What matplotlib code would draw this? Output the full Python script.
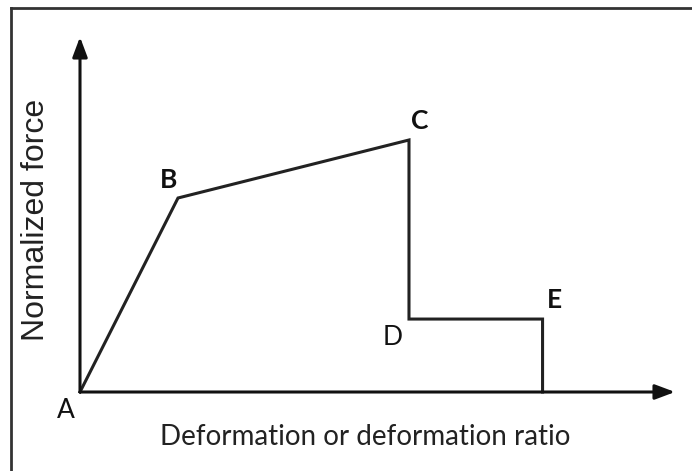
import matplotlib
matplotlib.use('Agg')
import matplotlib.pyplot as plt
from matplotlib.lines import Line2D

plt.rcParams['font.family'] = ['Lato', 'DejaVu Sans']

# curve A-B-C-D-E-end (arbitrary normalized units)
deformation = [0.0, 1.0, 3.357, 3.357, 4.72, 4.72]
force = [0.0, 1.0, 1.299, 0.376, 0.376, 0.0]
point_names = ['A', 'B', 'C', 'D', 'E']
bold_names = {'B', 'C', 'E'}
# label offsets in points relative to each vertex
label_offsets = [(-10, -13.5), (-6.5, 13), (8, 13.5), (-12, -13), (8.5, 13.5)]

W, H = 692, 471
fig = plt.figure(figsize=(W / 100, H / 100), dpi=100)

# plot area: origin at pixel (80, 392), axis arrows reach x=675 and y=37
x0, y0, x1, y1 = 80, 392, 675, 37
ax = fig.add_axes([x0 / W, (H - y0) / H, (x1 - x0) / W, (y0 - y1) / H])
xmax = (x1 - x0) / 98.0
ymax = (y0 - y1) / 194.0
ax.set_xlim(0, xmax)
ax.set_ylim(0, ymax)
ax.axis('off')

ax.plot(deformation, force, color='#222222', lw=2.2, solid_joinstyle='miter', clip_on=False, zorder=3)

arrow = dict(arrowstyle='-|>,head_length=1.2,head_width=0.45', color='#111111', lw=2.2,
             shrinkA=0, shrinkB=0)
ax.annotate('', xy=(xmax, 0), xytext=(0, 0), arrowprops=arrow, annotation_clip=False)
ax.annotate('', xy=(0, ymax), xytext=(0, 0), arrowprops=arrow, annotation_clip=False)

for name, (dx, dy), x, y in zip(point_names, label_offsets, deformation, force):
    ax.annotate(name, xy=(x, y), xytext=(dx, dy), textcoords='offset points',
                ha='center', va='center', fontsize=19,
                fontweight='bold' if name in bold_names else 'normal',
                color='#111111', annotation_clip=False)

fig.text(365 / W, 1 - 437 / H, 'Deformation or deformation ratio', ha='center', va='center',
         fontsize=20, color='#222222')
fig.text(36 / W, 1 - 220 / H, 'Normalized force', ha='center', va='center', rotation=90,
         fontsize=23, color='#222222', family='Liberation Sans')

# frame lines (top and left edges of the original box)
fig.add_artist(Line2D([11 / W, 11 / W], [0, 1 - 8 / H], transform=fig.transFigure,
                      color='#333333', lw=2.0))
fig.add_artist(Line2D([11 / W, 1], [1 - 8 / H, 1 - 8 / H], transform=fig.transFigure,
                      color='#333333', lw=2.0))

fig.savefig('out.png', dpi=100)
